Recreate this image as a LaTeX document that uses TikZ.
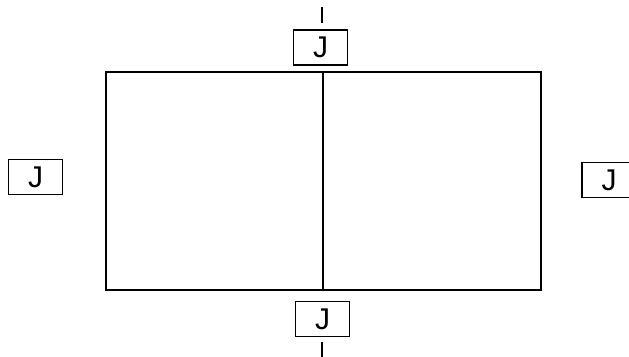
\documentclass[tikz,border=0pt]{standalone}
\usepackage{fontspec}
\setmainfont{Liberation Sans}
\begin{document}
\begin{tikzpicture}[x=1pt,y=-1pt,
  jbox/.style={draw, line width=1.6pt, minimum width=54pt, minimum height=35pt, inner sep=0pt, font=\fontsize{30}{30}\selectfont},
  frame/.style={line width=2pt}]
\useasboundingbox (0,0) rectangle (629,356);
\clip (0,0) rectangle (629,356);
\fill[white] (0,0) rectangle (629,356);
\coordinate (tl) at (106,72);
\coordinate (br) at (541,290);
\coordinate (mt) at (323,72);
\coordinate (mb) at (323,290);
\draw[frame] (tl) rectangle (br);
\draw[frame] (mt) -- (mb);
\node[jbox] (top) at (320.5,47.5) {J};
\node[jbox] (bot) at (322.5,319) {J};
\node[jbox] (left) at (35.5,177) {J};
\node[jbox] (right) at (609,180) {J};
\coordinate (dt1) at (322,7);
\coordinate (dt2) at (322,23);
\coordinate (db1) at (322,342);
\coordinate (db2) at (322,358);
\draw[line width=1.5pt] (dt1) -- (dt2);
\draw[line width=1.5pt] (db1) -- (db2);
\end{tikzpicture}
\end{document}
